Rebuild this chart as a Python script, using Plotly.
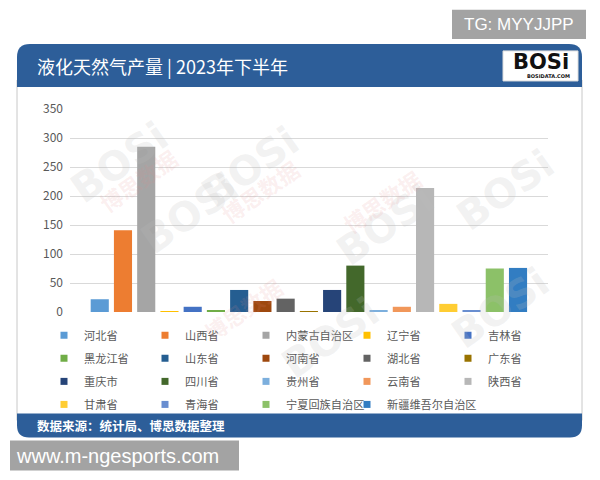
import plotly.graph_objects as go

# ---- data ----
provinces = ["河北省", "山西省", "内蒙古自治区", "辽宁省", "吉林省",
             "黑龙江省", "山东省", "河南省", "湖北省", "广东省",
             "重庆市", "四川省", "贵州省", "云南省", "陕西省",
             "甘肃省", "青海省", "宁夏回族自治区", "新疆维吾尔自治区"]
output_values = [22, 141, 285, 1.5, 9, 3, 38, 19, 23, 1.5,
                 38, 80, 2.5, 9, 214, 14, 3, 75, 76]
bar_colors = ["#5B9BD5", "#ED7D31", "#A5A5A5", "#FFC000", "#4472C4",
              "#70AD47", "#255E91", "#9E480E", "#636363", "#997300",
              "#264478", "#43682B", "#7CAFDD", "#F1975A", "#B7B7B7",
              "#FFCD33", "#698ED0", "#8CC168", "#327DC2"]
y_ticks = [0, 50, 100, 150, 200, 250, 300, 350]

title_text = "液化天然气产量 | 2023年下半年"
source_text = "数据来源：统计局、博思数据整理"

# ---- layout geometry (reference pixels; page body adds an 8px offset) ----
OFF = 8
W, H = 600 - OFF, 480 - OFF
L, R, T, B = 70, 548, 109, 311.7
FONT = "Noto Sans CJK SC"


def px(x):
    return (x - L) / (R - L)


def py(y):
    return (B - y) / (B - T)


per_row = 5
col_step = 101
legend_x0 = 44
legend_rows_y = [333, 356, 379, 402]
n = len(provinces)
# entries that get a legend of their own (long labels at the end of the last row)
solo_entries = [n - 2, n - 1]


def legend_id(i):
    if i in solo_entries:
        return f"legend{5 + solo_entries.index(i)}"
    row = i // per_row
    return "legend" if row == 0 else f"legend{row + 1}"


fig = go.Figure()
for i, (name, val, col) in enumerate(zip(provinces, output_values, bar_colors)):
    fig.add_trace(go.Bar(x=[name], y=[val], name=name, marker_color=col,
                         marker_line_width=0, showlegend=False, legendgroup=name))
    fig.add_trace(go.Scatter(x=[None], y=[None], mode="markers", name=name,
                             legendgroup=name, legend=legend_id(i),
                             marker=dict(symbol="square", size=7, color=col),
                             showlegend=True))

shapes = []
shapes.append(dict(type="rect", xref="paper", yref="paper",
                   x0=px(17), x1=px(582), y0=py(80), y1=py(420),
                   line=dict(color="#C8C8C8", width=1), fillcolor="white",
                   layer="below"))
header_path = (f"M{px(17)},{py(87)} L{px(17)},{py(57)} Q{px(17)},{py(44)} {px(30)},{py(44)} "
               f"L{px(569)},{py(44)} Q{px(582)},{py(44)} {px(582)},{py(57)} "
               f"L{px(582)},{py(87)} Z")
shapes.append(dict(type="path", xref="paper", yref="paper", path=header_path,
                   fillcolor="#2D5E99", line=dict(width=0), layer="below"))
footer_path = (f"M{px(17)},{py(413)} L{px(582)},{py(413)} L{px(582)},{py(425)} "
               f"Q{px(582)},{py(437)} {px(570)},{py(437)} L{px(29)},{py(437)} "
               f"Q{px(17)},{py(437)} {px(17)},{py(425)} Z")
shapes.append(dict(type="path", xref="paper", yref="paper", path=footer_path,
                   fillcolor="#2D5E99", line=dict(width=0), layer="above"))
shapes.append(dict(type="rect", xref="paper", yref="paper",
                   x0=px(503), x1=px(578), y0=py(51), y1=py(81),
                   fillcolor="white", line=dict(color="#DDDDDD", width=1), layer="above"))
shapes.append(dict(type="rect", xref="paper", yref="paper",
                   x0=px(452), x1=px(586), y0=py(10), y1=py(39),
                   fillcolor="#A3A3A3", line=dict(width=0), layer="above"))
shapes.append(dict(type="rect", xref="paper", yref="paper",
                   x0=px(10), x1=px(239), y0=py(440), y1=py(470),
                   fillcolor="#A3A3A3", line=dict(width=0), layer="above"))

annotations = [
    dict(text=title_text, xref="paper", yref="paper", x=px(35), y=py(66),
         xanchor="left", yanchor="middle", showarrow=False,
         font=dict(family=FONT, size=18, color="white")),
    dict(text="<b>BOSi</b>", xref="paper", yref="paper", x=px(541), y=py(62),
         xanchor="center", yanchor="middle", showarrow=False,
         font=dict(family="DejaVu Sans", size=21, color="#111111")),
    dict(text="<b>BOSIDATA.COM</b>", xref="paper", yref="paper", x=px(548), y=py(76),
         xanchor="center", yanchor="middle", showarrow=False,
         font=dict(family="DejaVu Sans", size=5, color="#111111")),
    dict(text="<b>" + source_text + "</b>", xref="paper", yref="paper", x=px(35), y=py(425),
         xanchor="left", yanchor="middle", showarrow=False,
         font=dict(family=FONT, size=12.5, color="white")),
    dict(text="TG: MYYJJPP", xref="paper", yref="paper", x=px(519), y=py(25),
         xanchor="center", yanchor="middle", showarrow=False,
         font=dict(family="Liberation Sans", size=17, color="white")),
    dict(text="www.m-ngesports.com", xref="paper", yref="paper", x=px(14), y=py(455),
         xanchor="left", yanchor="middle", showarrow=False,
         font=dict(family="Liberation Sans", size=20, color="white")),
]

wm_bosi = [(60, 110), (250, 115), (130, 265), (385, 225), (565, 190), (560, 360), (330, 390)]
for (wx, wy) in wm_bosi:
    annotations.append(dict(text="<b>BOSi</b>", xref="paper", yref="paper",
                            x=px(wx), y=py(wy), showarrow=False, textangle=-35,
                            font=dict(family="DejaVu Sans", size=40,
                                      color="rgba(190,190,190,0.2)")))
wm_cn = [(90, 180), (260, 150), (430, 160), (195, 350)]
for (wx, wy) in wm_cn:
    annotations.append(dict(text="<b>博思数据</b>", xref="paper", yref="paper",
                            x=px(wx), y=py(wy), showarrow=False, textangle=-35,
                            font=dict(family=FONT, size=22,
                                      color="rgba(230,140,140,0.14)")))

legend_style = dict(orientation="h", xanchor="left", yanchor="top",
                    entrywidth=col_step - 45, entrywidthmode="pixels",
                    font=dict(family=FONT, size=11.2, color="#595959"),
                    bgcolor="rgba(0,0,0,0)", traceorder="normal",
                    itemclick=False, itemdoubleclick=False)
legends = {}
for r, ry in enumerate(legend_rows_y):
    lid = "legend" if r == 0 else f"legend{r + 1}"
    legends[lid] = dict(legend_style, x=px(legend_x0), y=py(ry - 12.5))
for k, i in enumerate(solo_entries):
    row, col = divmod(i, per_row)
    legends[f"legend{5 + k}"] = dict(legend_style, entrywidth=0,
                                     x=px(legend_x0 + col * col_step),
                                     y=py(legend_rows_y[row] - 12.5))

fig.update_layout(
    width=W, height=H,
    margin=dict(l=L - OFF, r=600 - R, t=T - OFF, b=480 - B, pad=0, autoexpand=False),
    paper_bgcolor="white", plot_bgcolor="rgba(0,0,0,0)",
    barmode="overlay", bargap=0.22,
    font=dict(family=FONT, color="#595959", size=12),
    showlegend=True,
    shapes=shapes,
    annotations=annotations,
    **legends,
)
fig.update_xaxes(showticklabels=False, showgrid=False, zeroline=False,
                 range=[-1.28, 19.29], categoryorder="array", categoryarray=provinces,
                 fixedrange=True)
fig.update_yaxes(range=[0, 350], tickvals=y_ticks, showgrid=True, gridcolor="#D9D9D9",
                 gridwidth=1, zeroline=False, showline=False,
                 tickfont=dict(family=FONT, size=12, color="#595959"),
                 ticks="", ticklabelstandoff=6, fixedrange=True)

fig.write_html("out.html")
